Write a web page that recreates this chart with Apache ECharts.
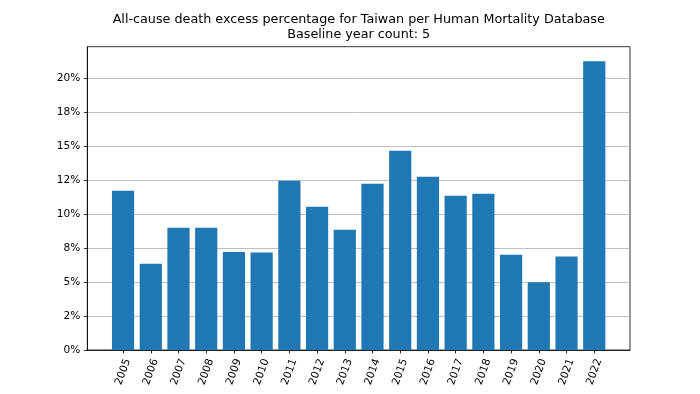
<!DOCTYPE html>
<html>
<head>
<meta charset="utf-8">
<script src="https://cdn.jsdelivr.net/npm/echarts@6/dist/echarts.min.js"></script>
<style>html,body{margin:0;padding:0;background:#fff;}#c{width:700px;height:394px;}</style>
</head>
<body>
<div id="c"></div>
<script>
var years = ['2005','2006','2007','2008','2009','2010','2011','2012','2013','2014','2015','2016','2017','2018','2019','2020','2021','2022'];
var excess = [11.73, 6.35, 9.00, 9.00, 7.23, 7.18, 12.47, 10.55, 8.86, 12.25, 14.69, 12.77, 11.37, 11.51, 7.01, 5.00, 6.89, 21.28];
var yTickValues = [0, 2.5, 5, 7.5, 10, 12.5, 15, 17.5, 20];
var yTickLabels = ['0%', '2%', '5%', '8%', '10%', '12%', '15%', '18%', '20%'];
var titleLines = ['All-cause death excess percentage for Taiwan per Human Mortality Database', 'Baseline year count: 5'];

var xIdx = years.map(function (y, i) { return i; });
var barData = excess.map(function (v, i) { return [i, v]; });
var font = 'DejaVu Sans';

var chart = echarts.init(document.getElementById('c'), null, {renderer: 'canvas'});
chart.setOption({
  animation: false,
  backgroundColor: '#ffffff',
  title: {
    text: titleLines.join('\n'),
    left: 358.7,
    textAlign: 'center',
    top: 11.5,
    padding: 0,
    textStyle: {fontFamily: font, fontSize: 12.75, fontWeight: 'normal', color: '#000', lineHeight: 15.5}
  },
  grid: {
    left: 87.3, right: 70, top: 46.7, bottom: 44,
    show: true, borderColor: '#000', borderWidth: 0.8, backgroundColor: 'transparent'
  },
  xAxis: {
    type: 'value',
    min: -1.29,
    max: 18.29,
    axisLine: {show: true, onZero: false, lineStyle: {color: '#000', width: 0.8}},
    axisTick: {show: true, customValues: xIdx, length: 3.5, lineStyle: {color: '#000', width: 0.8}},
    splitLine: {show: false},
    axisLabel: {
      customValues: xIdx,
      rotate: 70,
      align: 'center',
      verticalAlign: 'middle',
      margin: 22,
      fontFamily: font,
      fontSize: 10.6,
      color: '#000',
      formatter: function (v) { return years[Math.round(v)] || ''; }
    }
  },
  yAxis: {
    type: 'value',
    min: 0,
    max: 22.35,
    interval: 2.5,
    axisLine: {show: true, onZero: false, lineStyle: {color: '#000', width: 0.8}},
    axisTick: {show: true, customValues: yTickValues, length: 3.5, lineStyle: {color: '#000', width: 0.8}},
    splitLine: {show: true, lineStyle: {color: '#b0b0b0', width: 0.8}},
    axisLabel: {
      customValues: yTickValues,
      margin: 7,
      fontFamily: font,
      fontSize: 10.6,
      color: '#000',
      formatter: function (v) {
        var k = yTickValues.indexOf(v);
        return k >= 0 ? yTickLabels[k] : '';
      }
    }
  },
  series: [{
    type: 'bar',
    data: barData,
    barWidth: 22.2,
    itemStyle: {color: '#1f77b4'},
    z: 3
  }]
});
</script>
</body>
</html>
